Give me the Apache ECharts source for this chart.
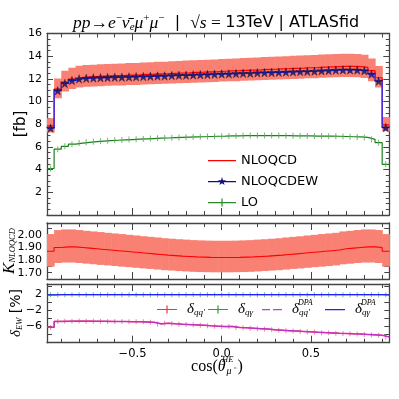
<!DOCTYPE html>
<html>
<head>
<meta charset="utf-8">
<script src="https://cdn.jsdelivr.net/npm/echarts@6/dist/echarts.min.js"></script>
<style>html,body{margin:0;padding:0;background:#fff}#main{width:399px;height:399px}</style>
</head>
<body>
<div id="main"></div>
<script>
// bin edges of cos(theta) histogram
const binEdges = [-0.98, -0.94, -0.90, -0.86, -0.82, -0.78, -0.74, -0.70, -0.66, -0.62,
  -0.58, -0.54, -0.50, -0.46, -0.42, -0.38, -0.34, -0.30, -0.26, -0.22,
  -0.18, -0.14, -0.10, -0.06, -0.02, 0.02, 0.06, 0.10, 0.14, 0.18,
  0.22, 0.26, 0.30, 0.34, 0.38, 0.42, 0.46, 0.50, 0.54, 0.58,
  0.62, 0.66, 0.70, 0.74, 0.78, 0.82, 0.86, 0.90, 0.94];

// top panel [fb]
const nloqcd = [7.85, 11.10, 11.72, 11.97, 12.12, 12.18, 12.21, 12.24, 12.27, 12.29,
  12.31, 12.34, 12.36, 12.39, 12.41, 12.44, 12.46, 12.49, 12.52, 12.54,
  12.57, 12.59, 12.62, 12.64, 12.67, 12.70, 12.72, 12.75, 12.78, 12.80,
  12.83, 12.85, 12.88, 12.90, 12.93, 12.95, 12.98, 13.00, 13.03, 13.06,
  13.08, 13.10, 13.10, 13.08, 13.02, 12.72, 12.10, 7.95];
const nloqcdHi = [8.52, 12.04, 12.72, 12.99, 13.15, 13.22, 13.25, 13.28, 13.31, 13.33,
  13.36, 13.39, 13.41, 13.44, 13.46, 13.50, 13.52, 13.55, 13.58, 13.61,
  13.64, 13.66, 13.69, 13.71, 13.75, 13.78, 13.80, 13.83, 13.87, 13.89,
  13.92, 13.94, 13.97, 14.00, 14.03, 14.05, 14.08, 14.11, 14.14, 14.17,
  14.19, 14.21, 14.21, 14.19, 14.13, 13.80, 13.13, 8.63];
const nloqcdLo = [7.28, 10.30, 10.88, 11.11, 11.25, 11.30, 11.33, 11.36, 11.39, 11.41,
  11.42, 11.45, 11.47, 11.50, 11.52, 11.54, 11.56, 11.59, 11.62, 11.64,
  11.66, 11.68, 11.71, 11.73, 11.76, 11.79, 11.80, 11.83, 11.86, 11.88,
  11.91, 11.92, 11.95, 11.97, 12.00, 12.02, 12.05, 12.06, 12.09, 12.12,
  12.14, 12.16, 12.16, 12.14, 12.08, 11.80, 11.23, 7.38];
const nloqcdew = [7.65, 10.96, 11.60, 11.85, 12.00, 12.05, 12.08, 12.10, 12.12, 12.14,
  12.15, 12.17, 12.19, 12.20, 12.23, 12.25, 12.26, 12.29, 12.31, 12.32,
  12.35, 12.37, 12.38, 12.41, 12.43, 12.44, 12.47, 12.49, 12.50, 12.53,
  12.55, 12.56, 12.58, 12.60, 12.62, 12.64, 12.66, 12.68, 12.71, 12.74,
  12.77, 12.79, 12.79, 12.78, 12.72, 12.42, 11.80, 7.70];
const lo = [4.10, 5.80, 6.05, 6.24, 6.34, 6.41, 6.46, 6.51, 6.55, 6.59,
  6.62, 6.65, 6.68, 6.71, 6.74, 6.77, 6.79, 6.82, 6.84, 6.86,
  6.88, 6.90, 6.92, 6.94, 6.95, 6.97, 6.98, 6.99, 7.00, 7.00,
  7.01, 7.00, 7.00, 6.99, 6.98, 6.98, 6.97, 6.96, 6.96, 6.95,
  6.94, 6.92, 6.90, 6.88, 6.84, 6.67, 6.38, 4.47];

// middle panel K-factor
const kFactor = [1.870, 1.900, 1.905, 1.905, 1.900, 1.895, 1.890, 1.885, 1.880, 1.875,
  1.870, 1.865, 1.860, 1.855, 1.850, 1.845, 1.840, 1.836, 1.832, 1.829,
  1.826, 1.824, 1.822, 1.821, 1.821, 1.821, 1.822, 1.824, 1.826, 1.829,
  1.832, 1.836, 1.840, 1.845, 1.850, 1.855, 1.860, 1.865, 1.870, 1.875,
  1.880, 1.890, 1.895, 1.900, 1.905, 1.905, 1.900, 1.870];
const kHi = [2.007, 2.039, 2.044, 2.044, 2.039, 2.033, 2.028, 2.023, 2.017, 2.012,
  2.007, 2.001, 1.996, 1.990, 1.985, 1.980, 1.974, 1.970, 1.966, 1.963,
  1.959, 1.957, 1.955, 1.954, 1.954, 1.954, 1.955, 1.957, 1.959, 1.963,
  1.966, 1.970, 1.974, 1.980, 1.985, 1.990, 1.996, 2.001, 2.007, 2.012,
  2.017, 2.028, 2.033, 2.039, 2.044, 2.044, 2.039, 2.007];
const kLo = [1.748, 1.777, 1.781, 1.781, 1.777, 1.772, 1.767, 1.762, 1.758, 1.753,
  1.748, 1.744, 1.739, 1.734, 1.730, 1.725, 1.720, 1.717, 1.713, 1.710,
  1.707, 1.705, 1.704, 1.703, 1.703, 1.703, 1.704, 1.705, 1.707, 1.710,
  1.713, 1.717, 1.720, 1.725, 1.730, 1.734, 1.739, 1.744, 1.748, 1.753,
  1.758, 1.767, 1.772, 1.777, 1.781, 1.781, 1.777, 1.748];

// bottom panel delta_EW [%]
const deltaQQ = [-6.20, -4.70, -4.66, -4.64, -4.63, -4.64, -4.66, -4.68, -4.70, -4.72,
  -4.74, -4.76, -4.78, -4.82, -4.90, -5.35, -5.15, -5.30, -5.40, -5.50,
  -5.55, -5.65, -5.80, -5.90, -6.00, -5.95, -6.20, -6.30, -6.40, -6.50,
  -6.60, -6.80, -6.90, -7.00, -7.10, -7.20, -7.30, -7.40, -7.50, -7.55,
  -7.65, -7.70, -7.80, -7.85, -7.95, -8.05, -8.15, -8.60];
const deltaQQdpa = [-6.15, -4.72, -4.67, -4.65, -4.64, -4.65, -4.67, -4.69, -4.71, -4.73,
  -4.75, -4.77, -4.80, -4.84, -4.92, -5.30, -5.17, -5.31, -5.41, -5.50,
  -5.57, -5.66, -5.80, -5.90, -6.00, -5.98, -6.20, -6.30, -6.40, -6.50,
  -6.62, -6.80, -6.90, -7.00, -7.10, -7.20, -7.30, -7.40, -7.49, -7.56,
  -7.65, -7.72, -7.80, -7.86, -7.95, -8.05, -8.17, -8.55];
const deltaQG = [1.90, 1.93, 1.94, 1.95, 1.95, 1.95, 1.95, 1.95, 1.95, 1.95,
  1.95, 1.95, 1.95, 1.95, 1.95, 1.95, 1.95, 1.95, 1.95, 1.95,
  1.95, 1.95, 1.95, 1.95, 1.95, 1.95, 1.95, 1.95, 1.95, 1.95,
  1.95, 1.95, 1.95, 1.95, 1.95, 1.95, 1.95, 1.95, 1.95, 1.95,
  1.95, 1.95, 1.95, 1.95, 1.95, 1.94, 1.93, 1.90];
const deltaQGdpa = [1.92, 1.94, 1.95, 1.95, 1.95, 1.95, 1.95, 1.95, 1.95, 1.95,
  1.95, 1.95, 1.95, 1.95, 1.95, 1.95, 1.95, 1.95, 1.95, 1.95,
  1.95, 1.95, 1.95, 1.95, 1.95, 1.95, 1.95, 1.95, 1.95, 1.95,
  1.95, 1.95, 1.95, 1.95, 1.95, 1.95, 1.95, 1.95, 1.95, 1.95,
  1.95, 1.95, 1.95, 1.95, 1.95, 1.95, 1.94, 1.92];

const centers = binEdges.slice(1).map((e, i) => (binEdges[i] + e) / 2);
const stepData = vals => binEdges.map((e, i) => [e, vals[Math.min(i, vals.length - 1)]]);
const atCenters = vals => centers.map((c, i) => [c, vals[i]]);
const bandData = (low, high) => low.map((l, i) => [binEdges[i], binEdges[i + 1], l, high[i]]);

const AX = '#444';
const MATH = 'Liberation Serif';
const SANS = 'DejaVu Sans';
const xMin = -0.98, xMax = 0.94;
const X0 = 47, XW = 342.3;
const ppu = XW / (xMax - xMin);
const panels = [
  { top: 33.5, height: 181.5 },
  { top: 223, height: 56 },
  { top: 284, height: 58.7 }
];

const grids = [];
panels.forEach(p => grids.push({ left: X0, top: p.top, width: XW, height: p.height }));
panels.forEach(p => grids.push({ left: X0 + (-0.9 - xMin) * ppu, top: p.top, width: 1.8 * ppu, height: p.height }));
panels.forEach(p => grids.push({ left: X0 + (-0.5 - xMin) * ppu, top: p.top, width: 1.0 * ppu, height: p.height }));

const xAxes = [];
[0, 1, 2].forEach(g => {
  ['bottom', 'top'].forEach(pos => xAxes.push({
    type: 'value', gridIndex: g, position: pos, min: xMin, max: xMax,
    axisLine: { show: true, onZero: false, lineStyle: { color: AX, width: 1.3 } },
    axisTick: { show: false }, axisLabel: { show: false }, splitLine: { show: false }
  }));
});
[3, 4, 5].forEach(g => {
  ['bottom', 'top'].forEach(pos => xAxes.push({
    type: 'value', gridIndex: g, position: pos, min: -0.9, max: 0.9, interval: 0.1,
    axisLine: { show: false, onZero: false },
    axisTick: { show: true, inside: true, length: 4, lineStyle: { color: AX, width: 1 } },
    axisLabel: { show: false }, splitLine: { show: false }
  }));
});
[6, 7, 8].forEach(g => {
  ['bottom', 'top'].forEach(pos => xAxes.push({
    type: 'value', gridIndex: g, position: pos, min: -0.5, max: 0.5, interval: 0.5,
    axisLine: { show: false, onZero: false },
    axisTick: { show: true, inside: true, length: 7, lineStyle: { color: AX, width: 1 } },
    axisLabel: {
      show: g === 8 && pos === 'bottom', margin: 5, fontSize: 11.5, fontFamily: SANS, color: '#000',
      formatter: v => v.toFixed(1).replace('-', '\u2212')
    },
    splitLine: { show: false }
  }));
});

const yLabel = { margin: 5, fontSize: 11, fontFamily: SANS, color: '#000' };
function yPair(g, cfg, labelFmt) {
  const base = {
    type: 'value', gridIndex: g, min: cfg.min, max: cfg.max, interval: cfg.interval,
    axisLine: { show: true, onZero: false, lineStyle: { color: AX, width: 1.3 } },
    axisTick: { show: true, inside: true, length: cfg.tick, lineStyle: { color: AX, width: 1 } },
    minorTick: { show: !!cfg.minor, splitNumber: cfg.minor || 5, length: 3.5, lineStyle: { color: AX, width: 1 } },
    splitLine: { show: false }, minorSplitLine: { show: false }
  };
  return [
    Object.assign({}, base, { position: 'left', axisLabel: Object.assign({ formatter: labelFmt }, yLabel) }),
    Object.assign({}, base, { position: 'right', axisLabel: { show: false } })
  ];
}
const near = (v, t) => Math.abs(v - t) < 1e-6;
const yAxes = [].concat(
  yPair(0, { min: 0, max: 16, interval: 2, tick: 6, minor: 4 },
    v => (v > 0 && near(v, Math.round(v))) ? String(v) : ''),
  yPair(1, { min: 1.65, max: 2.095, interval: 0.05, tick: 5 },
    v => near(v * 10, Math.round(v * 10)) ? v.toFixed(2) : ''),
  yPair(2, { min: -10, max: 4.6, interval: 2, tick: 5 },
    v => [2, -2, -6].some(t => near(v, t)) ? String(Math.round(v)).replace('-', '\u2212') : '')
);
[3, 4, 5, 6, 7, 8].forEach(g => yAxes.push({ type: 'value', gridIndex: g, show: false, min: 0, max: 1 }));

const starPath = 'path://M50,0L61.2,34.6L97.6,34.5L68.1,55.9L79.4,90.5L50,69L20.6,90.5L31.9,55.9L2.4,34.5L38.8,34.6Z';
const iconLine = 'path://M0,0h.01v.01h-.01zM28,12h.01v.01h-.01zM0,5.4h28v1.3h-28z';
const iconStarLine = 'path://M0,0h.01v.01h-.01zM28,12h.01v.01h-.01zM0,5.4h28v1.3h-28z' +
  'M14,1.6L14.99,4.65L18.2,4.64L15.6,6.53L16.6,9.6L14,7.7L11.4,9.6L12.4,6.53L9.8,4.64L13.01,4.65Z';
const iconBarLine = 'path://M0,0h.01v.01h-.01zM28,12h.01v.01h-.01zM0,5.4h28v1.3h-28zM13.4,2h1.2v8h-1.2z';
const iconErr = 'path://M0,0h.01v.01h-.01zM20,9h.01v.01h-.01zM0,3.9h20v1.2h-20zM9.4,0.5h1.2v8h-1.2z';
const iconLine2 = 'path://M0,0h.01v.01h-.01zM20,9h.01v.01h-.01zM0,3.9h20v1.3h-20z';
const iconDash = 'path://M0,0h.01v.01h-.01zM20,9h.01v.01h-.01zM0,3.9h8v1.3h-8zM11,3.9h9v1.3h-9z';

function bandRender(color) {
  return function (params, api) {
    const a = api.coord([api.value(0), api.value(3)]);
    const b = api.coord([api.value(1), api.value(2)]);
    return { type: 'rect', shape: { x: a[0], y: a[1], width: b[0] - a[0] + 0.6, height: b[1] - a[1] },
      style: { fill: color } };
  };
}
function stepLine(name, vals, xi, color, width, z) {
  return { type: 'line', name: name, xAxisIndex: xi, yAxisIndex: xi, step: 'end', data: stepData(vals),
    symbol: 'none', lineStyle: { color: color, width: width }, itemStyle: { color: color }, z: z, silent: true };
}
function ticks(vals, xi, color, h, z) {
  return { type: 'scatter', xAxisIndex: xi, yAxisIndex: xi, data: atCenters(vals), symbol: 'rect',
    symbolSize: [1.1, h], itemStyle: { color: color }, z: z, silent: true };
}

const legendRich = {
  d: { fontFamily: MATH, fontStyle: 'italic', fontSize: 15, color: '#000', lineHeight: 16, padding: [0, 0, 0, 5] },
  s: { fontFamily: MATH, fontStyle: 'italic', fontSize: 9, color: '#000', lineHeight: 9, verticalAlign: 'bottom' }
};
const bottomLabels = { dqq: '{d|δ}{s|qq′}', dqg: '{d|δ}{s|qγ}', dqqDpa: '{d|δ}{s|qq′}', dqgDpa: '{d|δ}{s|qγ}' };
function bottomLegend(name, left, icon, color) {
  return { left: left, top: 302, padding: 0, itemWidth: 20, itemHeight: 9, selectedMode: false,
    data: [{ name: name, icon: icon, itemStyle: { color: color } }],
    formatter: n => bottomLabels[n], textStyle: { rich: legendRich } };
}

const titleRich = {
  m: { fontFamily: MATH, fontStyle: 'italic', fontSize: 17.5, fill: '#000', lineHeight: 20 },
  r: { fontFamily: MATH, fontSize: 17.5, fill: '#000', lineHeight: 20 },
  p: { fontFamily: MATH, fontSize: 11, fill: '#000', lineHeight: 11, verticalAlign: 'top' },
  b: { fontFamily: MATH, fontStyle: 'italic', fontSize: 11, fill: '#000', lineHeight: 11, verticalAlign: 'bottom' },
  n: { fontFamily: SANS, fontSize: 16, fill: '#000', lineHeight: 20 }
};
const mathRich = {
  k: { fontFamily: MATH, fontStyle: 'italic', fontSize: 17, fill: '#000', lineHeight: 15 },
  d: { fontFamily: MATH, fontStyle: 'italic', fontSize: 15, fill: '#000', lineHeight: 17 },
  s: { fontFamily: MATH, fontStyle: 'italic', fontSize: 8.5, fill: '#000', lineHeight: 9, verticalAlign: 'bottom' },
  n: { fontFamily: SANS, fontSize: 14, fill: '#000', lineHeight: 17 }
};
function yName(text, x, y, extra) {
  return { type: 'text', x: x, y: y, rotation: Math.PI / 2,
    style: Object.assign({ text: text, align: 'center', verticalAlign: 'middle', rich: mathRich, fill: '#000' }, extra || {}) };
}

const chart = echarts.init(document.getElementById('main'), null, { renderer: 'canvas' });
chart.setOption({
  animation: false,
  backgroundColor: '#fff',
  grid: grids,
  xAxis: xAxes,
  yAxis: yAxes,
  legend: [
    { orient: 'vertical', left: 208, top: 154, padding: 0, itemWidth: 28, itemHeight: 12, itemGap: 8,
      selectedMode: false, textStyle: { fontSize: 13, fontFamily: SANS, color: '#000' },
      data: [
        { name: 'NLOQCD', icon: iconLine, itemStyle: { color: '#ff0000' } },
        { name: 'NLOQCDEW', icon: iconStarLine, itemStyle: { color: '#10107a' } },
        { name: 'LO', icon: iconBarLine, itemStyle: { color: '#2a882a' } }
      ] },
    bottomLegend('dqq', 157, iconErr, '#ff3030'),
    bottomLegend('dqg', 208, iconErr, '#2ca02c'),
    bottomLegend('dqqDpa', 262, iconDash, '#c040c8'),
    bottomLegend('dqgDpa', 325, iconLine2, '#2020ff')
  ],
  graphic: [
    { type: 'text', x: 216, y: 23, style: {
      text: '{m|pp}{r|→}{m|e}{p|−}{m|ν̄}{b|e}{m|μ}{p|+}{m|μ}{p|−}{n|  |  }{r|√}{m|s}{r| = }{n|13TeV | ATLASfid}',
      align: 'center', verticalAlign: 'middle', rich: titleRich } },
    yName('[fb]', 21, 124, { fontFamily: SANS, fontSize: 15 }),
    yName('{k|K}{s|NLOQCD}', 10, 251),
    yName('{d|δ}{s|EW}{n| [%]}', 16, 313),
    { type: 'text', x: 217, y: 367, style: {
      text: '{r|cos(}{t|θ}{s|μ⁻}{r|)}', align: 'center', verticalAlign: 'middle',
      rich: {
        r: { fontFamily: MATH, fontSize: 16, fill: '#000', lineHeight: 18 },
        t: { fontFamily: MATH, fontStyle: 'italic', fontSize: 16, fill: '#000', lineHeight: 18 },
        s: { fontFamily: MATH, fontStyle: 'italic', fontSize: 10, fill: '#000', lineHeight: 10, verticalAlign: 'bottom',
             padding: [0, 3, 0, 1] }
      } } },
    { type: 'text', x: 222, y: 355, style: { text: 'HE', fontFamily: MATH, fontStyle: 'italic', fontSize: 8.5, fill: '#000' } },
    { type: 'text', x: 298, y: 299, style: { text: 'DPA', fontFamily: MATH, fontStyle: 'italic', fontSize: 8, fill: '#000' } },
    { type: 'text', x: 361, y: 299, style: { text: 'DPA', fontFamily: MATH, fontStyle: 'italic', fontSize: 8, fill: '#000' } }
  ],
  series: [
    // top panel
    { type: 'custom', xAxisIndex: 0, yAxisIndex: 0, renderItem: bandRender('#f98173'),
      data: bandData(nloqcdLo, nloqcdHi), encode: { x: [0, 1], y: [2, 3] }, clip: true, z: 1, silent: true },
    stepLine('NLOQCD', nloqcd, 0, '#ff0000', 1.2, 3),
    stepLine('LO', lo, 0, '#1f7f1f', 1.2, 3),
    ticks(lo, 0, '#55b055', 6, 4),
    stepLine('NLOQCDEW', nloqcdew, 0, '#2a2aff', 1.3, 4),
    { type: 'scatter', xAxisIndex: 0, yAxisIndex: 0, data: atCenters(nloqcdew), symbol: starPath, symbolSize: 8.5,
      itemStyle: { color: '#10107a', borderColor: '#000', borderWidth: 0.4 }, z: 5, silent: true },
    // middle panel
    { type: 'custom', xAxisIndex: 2, yAxisIndex: 2, renderItem: bandRender('#f98173'),
      data: bandData(kLo, kHi), encode: { x: [0, 1], y: [2, 3] }, clip: true, z: 1, silent: true },
    stepLine('kfac', kFactor, 2, '#ff0000', 1.1, 3),
    // bottom panel
    stepLine('dqq', deltaQQ, 4, '#ff3030', 1.1, 3),
    ticks(deltaQQ, 4, '#ff7070', 5, 4),
    stepLine('dqg', deltaQG, 4, '#2ca02c', 1.1, 3),
    ticks(deltaQG, 4, '#5cb85c', 5, 4),
    stepLine('dqqDpa', deltaQQdpa, 4, '#c030c8', 1.5, 5),
    stepLine('dqgDpa', deltaQGdpa, 4, '#2020ff', 1.3, 5)
  ]
});
</script>
</body>
</html>
